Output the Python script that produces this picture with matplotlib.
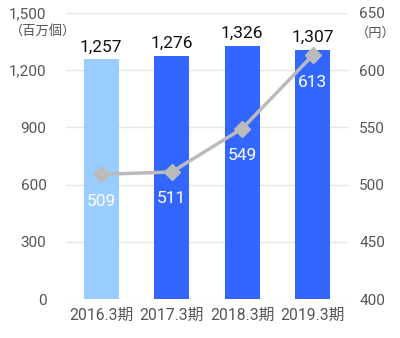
import matplotlib
matplotlib.use("Agg")
import matplotlib.pyplot as plt
import numpy as np

plt.rcParams['font.family'] = ['Roboto', 'Noto Sans CJK JP', 'DejaVu Sans']

periods = ['2016.3期', '2017.3期', '2018.3期', '2019.3期']
volume = [1257, 1276, 1326, 1307]      # 百万個
unit_price = [509, 511, 549, 613]       # 円
bar_colors = ['#99CCFF', '#3366FF', '#3366FF', '#3366FF']

fig = plt.figure(figsize=(4, 3.38), dpi=100)
ax = fig.add_axes([0.165, 0.115, 0.705, 0.847])
x = np.arange(len(periods))

ax.bar(x, volume, width=0.5, color=bar_colors, zorder=2)
ax.set_ylim(0, 1500)
ax.set_xlim(-0.5, 3.5)
ax.set_yticks(range(0, 1501, 300))
ax.set_yticklabels([f'{v:,}' for v in range(0, 1501, 300)])
ax.grid(axis='y', color='#e6e6e6', lw=1, zorder=0)
ax.set_xticks(x)
ax.set_xticklabels(periods)
for s in ax.spines.values():
    s.set_visible(False)
ax.tick_params(length=0, colors='#555555', labelsize=11)
ax.tick_params(axis='y', pad=14)
ax.tick_params(axis='x', pad=6, labelsize=11.3)
for xi, v in zip(x, volume):
    ax.text(xi, v + 25, f'{v:,}', ha='center', va='bottom', fontsize=12.5,
            color='#111111')

ax2 = ax.twinx()
ax2.set_ylim(400, 650)
ax2.set_yticks(range(400, 651, 50))
for s in ax2.spines.values():
    s.set_visible(False)
ax2.tick_params(length=0, colors='#555555', labelsize=11, pad=8)
ax2.plot(x, unit_price, color='#bbbbbb', lw=2.5, marker='D', ms=8, zorder=3)
for xi, v in zip(x, unit_price):
    ax2.text(xi, v - 17, str(v), ha='center', va='top', fontsize=12.5, color='white')

fig.text(0.025, 0.905, '（百万個）', fontsize=9.5, color='#555555', ha='left', va='center')
fig.text(0.89, 0.902, '（円）', fontsize=9.5, color='#555555', ha='left', va='center')

fig.savefig('out.png', dpi=100)
